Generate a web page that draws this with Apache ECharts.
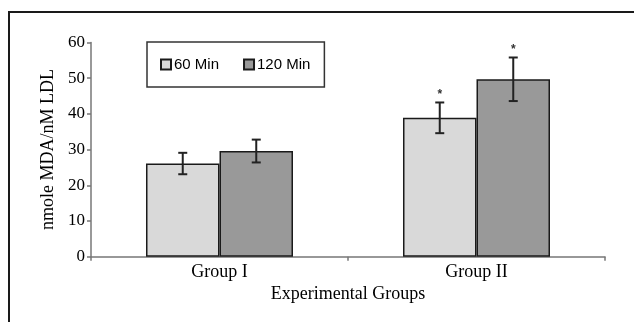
<!DOCTYPE html>
<html>
<head>
<meta charset="utf-8">
<style>
  html, body { margin: 0; padding: 0; background: #fff; }
  #chart { width: 634px; height: 322px; }
</style>
<script src="https://cdn.jsdelivr.net/npm/echarts@6/dist/echarts.min.js"></script>
</head>
<body>
<div id="chart"></div>
<script>
// Lipid peroxidation of LDL: MDA formed after 60 and 120 minutes
const categories = ['Group I', 'Group II'];
const seriesNames = ['60 Min', '120 Min'];
const mean60 = [26.1, 38.9];
const mean120 = [29.6, 49.7];
const sd60 = [3.0, 4.3];
const sd120 = [3.2, 6.1];
const sig60 = [false, true];   // marked with an asterisk
const sig120 = [false, true];
const yMin = 0, yMax = 60, yStep = 10;

const BAR_FRAC = 0.286;        // share of a category taken by one bar
const serif = '"Liberation Serif", "Times New Roman", serif';
const sans = '"Liberation Sans", Arial, sans-serif';

const chart = echarts.init(document.getElementById('chart'), null, { renderer: 'canvas' });

function errorSeries(name, means, sds, sigs, side) {
  return {
    type: 'custom',
    name: name + ' error',
    z: 5,
    silent: true,
    encode: { x: 0, y: 1 },
    data: means.map((m, i) => [i, m, sds[i], sigs[i] ? 1 : 0]),
    renderItem: function (params, api) {
      const i = api.value(0), m = api.value(1), e = api.value(2);
      const bw = api.size([1, 0])[0] * BAR_FRAC;
      const c = api.coord([i, m]);
      const x = c[0] + side * bw / 2;
      const yt = api.coord([i, m + e])[1];
      const yb = api.coord([i, m - e])[1];
      const st = { stroke: '#222', lineWidth: 2 };
      const kids = [
        { type: 'line', shape: { x1: x, y1: yt, x2: x, y2: yb }, style: st },
        { type: 'line', shape: { x1: x - 4.5, y1: yt, x2: x + 4.5, y2: yt }, style: st },
        { type: 'line', shape: { x1: x - 4.5, y1: yb, x2: x + 4.5, y2: yb }, style: st }
      ];
      if (api.value(3)) {
        kids.push({
          type: 'text',
          style: {
            text: '*', x: x, y: yt - 2, align: 'center', verticalAlign: 'bottom',
            font: 'bold 12px ' + sans, fill: '#333'
          }
        });
      }
      return { type: 'group', children: kids };
    }
  };
}

const barStyle = (color) => ({ color: color, borderColor: '#1a1a1a', borderWidth: 1.5 });

chart.setOption({
  animation: false,
  backgroundColor: '#fff',
  grid: { left: 91, right: 29, top: 42.5, bottom: 65.3, containLabel: false },
  legend: {
    data: seriesNames,
    left: 147, top: 42,
    orient: 'horizontal',
    padding: [15, 14, 15, 13],
    itemGap: 24,
    itemWidth: 10, itemHeight: 10,
    icon: 'rect',
    borderColor: '#333', borderWidth: 1.5,
    backgroundColor: '#fff',
    textStyle: { fontFamily: sans, fontSize: 15, color: '#000', padding: [0, 0, 0, -2] }
  },
  xAxis: {
    type: 'category',
    data: categories,
    name: 'Experimental Groups',
    nameLocation: 'middle',
    nameGap: 29,
    nameMoveOverlap: false,
    nameTextStyle: { fontFamily: serif, fontSize: 18, color: '#000' },
    axisLine: { lineStyle: { color: '#777', width: 1.5 } },
    axisTick: { show: true, length: 4, lineStyle: { color: '#777', width: 1.5 } },
    axisLabel: { fontFamily: serif, fontSize: 18, color: '#000', margin: 7 }
  },
  yAxis: {
    type: 'value',
    min: yMin, max: yMax, interval: yStep,
    name: 'nmole MDA/nM LDL',
    nameLocation: 'middle',
    nameGap: 34,
    nameMoveOverlap: false,
    nameTextStyle: { fontFamily: serif, fontSize: 18, color: '#000' },
    axisLine: { show: true, lineStyle: { color: '#777', width: 1.5 } },
    axisTick: { show: true, length: 4, lineStyle: { color: '#777', width: 1.5 } },
    axisLabel: { fontFamily: serif, fontSize: 17, color: '#000', margin: 6 },
    splitLine: { show: false }
  },
  series: [
    { type: 'bar', name: seriesNames[0], data: mean60, barWidth: (BAR_FRAC * 100) + '%', barGap: '0%', itemStyle: barStyle('#d9d9d9') },
    { type: 'bar', name: seriesNames[1], data: mean120, barWidth: (BAR_FRAC * 100) + '%', barGap: '0%', itemStyle: barStyle('#999999') },
    errorSeries(seriesNames[0], mean60, sd60, sig60, -1),
    errorSeries(seriesNames[1], mean120, sd120, sig120, 1)
  ],
  graphic: [
    {
      type: 'polyline',
      silent: true,
      shape: { points: [[9, 322], [9, 12], [634, 12]] },
      style: { stroke: '#1a1a1a', lineWidth: 2, fill: null }
    }
  ]
});
</script>
</body>
</html>
